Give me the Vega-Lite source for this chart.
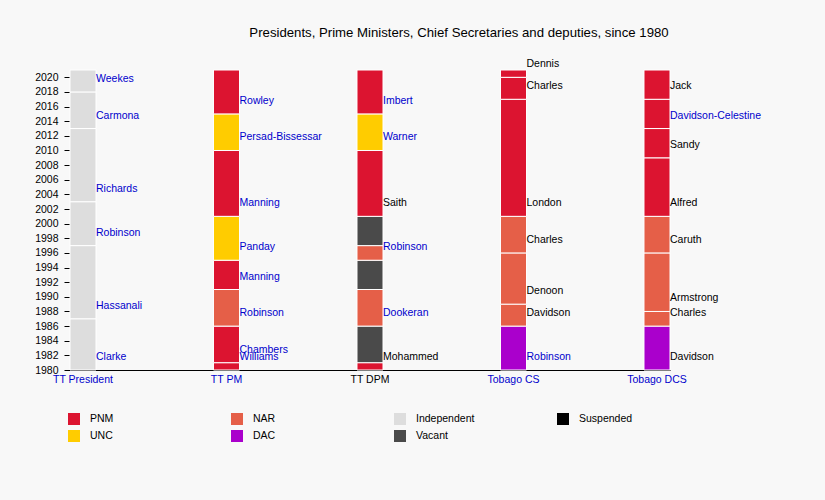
{
  "$schema": "https://vega.github.io/schema/vega-lite/v6.json",
  "autosize": "none",
  "padding": {"left": 70, "top": 70, "right": 155, "bottom": 130},
  "width": 600,
  "height": 300,
  "background": "#f8f8f8",
  "title": {
    "text": "Presidents, Prime Ministers, Chief Secretaries and deputies, since 1980",
    "fontSize": 13.2,
    "fontWeight": "normal",
    "color": "#000000",
    "anchor": "middle",
    "dx": 89,
    "offset": 19
  },
  "data": {
    "values": [
      {"post": "TT President", "name": "Clarke", "party": "Independent", "start": 1980, "end": 1987, "link": true},
      {"post": "TT President", "name": "Hassanali", "party": "Independent", "start": 1987, "end": 1997, "link": true},
      {"post": "TT President", "name": "Robinson", "party": "Independent", "start": 1997, "end": 2003, "link": true},
      {"post": "TT President", "name": "Richards", "party": "Independent", "start": 2003, "end": 2013, "link": true},
      {"post": "TT President", "name": "Carmona", "party": "Independent", "start": 2013, "end": 2018, "link": true},
      {"post": "TT President", "name": "Weekes", "party": "Independent", "start": 2018, "end": 2021, "link": true},
      {"post": "TT PM", "name": "Williams", "party": "PNM", "start": 1980, "end": 1981, "link": true},
      {"post": "TT PM", "name": "Chambers", "party": "PNM", "start": 1981, "end": 1986, "link": true},
      {"post": "TT PM", "name": "Robinson", "party": "NAR", "start": 1986, "end": 1991, "link": true},
      {"post": "TT PM", "name": "Manning", "party": "PNM", "start": 1991, "end": 1995, "link": true},
      {"post": "TT PM", "name": "Panday", "party": "UNC", "start": 1995, "end": 2001, "link": true},
      {"post": "TT PM", "name": "Manning", "party": "PNM", "start": 2001, "end": 2010, "link": true},
      {"post": "TT PM", "name": "Persad-Bissessar", "party": "UNC", "start": 2010, "end": 2015, "link": true},
      {"post": "TT PM", "name": "Rowley", "party": "PNM", "start": 2015, "end": 2021, "link": true},
      {"post": "TT DPM", "name": "Mohammed", "party": "PNM", "start": 1980, "end": 1981, "link": false},
      {"post": "TT DPM", "name": "", "party": "Vacant", "start": 1981, "end": 1986, "link": false},
      {"post": "TT DPM", "name": "Dookeran", "party": "NAR", "start": 1986, "end": 1991, "link": true},
      {"post": "TT DPM", "name": "", "party": "Vacant", "start": 1991, "end": 1995, "link": false},
      {"post": "TT DPM", "name": "Robinson", "party": "NAR", "start": 1995, "end": 1997, "link": true},
      {"post": "TT DPM", "name": "", "party": "Vacant", "start": 1997, "end": 2001, "link": false},
      {"post": "TT DPM", "name": "Saith", "party": "PNM", "start": 2001, "end": 2010, "link": false},
      {"post": "TT DPM", "name": "Warner", "party": "UNC", "start": 2010, "end": 2015, "link": true},
      {"post": "TT DPM", "name": "Imbert", "party": "PNM", "start": 2015, "end": 2021, "link": true},
      {"post": "Tobago CS", "name": "Robinson", "party": "DAC", "start": 1980, "end": 1986, "link": true},
      {"post": "Tobago CS", "name": "Davidson", "party": "NAR", "start": 1986, "end": 1989, "link": false},
      {"post": "Tobago CS", "name": "Denoon", "party": "NAR", "start": 1989, "end": 1996, "link": false},
      {"post": "Tobago CS", "name": "Charles", "party": "NAR", "start": 1996, "end": 2001, "link": false},
      {"post": "Tobago CS", "name": "London", "party": "PNM", "start": 2001, "end": 2017, "link": false},
      {"post": "Tobago CS", "name": "Charles", "party": "PNM", "start": 2017, "end": 2020, "link": false},
      {"post": "Tobago CS", "name": "Dennis", "party": "PNM", "start": 2020, "end": 2021, "link": false},
      {"post": "Tobago DCS", "name": "Davidson", "party": "DAC", "start": 1980, "end": 1986, "link": false},
      {"post": "Tobago DCS", "name": "Charles", "party": "NAR", "start": 1986, "end": 1988, "link": false},
      {"post": "Tobago DCS", "name": "Armstrong", "party": "NAR", "start": 1988, "end": 1996, "link": false},
      {"post": "Tobago DCS", "name": "Caruth", "party": "NAR", "start": 1996, "end": 2001, "link": false},
      {"post": "Tobago DCS", "name": "Alfred", "party": "PNM", "start": 2001, "end": 2009, "link": false},
      {"post": "Tobago DCS", "name": "Sandy", "party": "PNM", "start": 2009, "end": 2013, "link": false},
      {"post": "Tobago DCS", "name": "Davidson-Celestine", "party": "PNM", "start": 2013, "end": 2017, "link": true},
      {"post": "Tobago DCS", "name": "Jack", "party": "PNM", "start": 2017, "end": 2021, "link": false}
    ]
  },
  "encoding": {
    "x": {
      "field": "post",
      "type": "nominal",
      "sort": ["TT President", "TT PM", "TT DPM", "Tobago CS", "Tobago DCS"],
      "scale": {"paddingInner": 0.8188, "paddingOuter": 0},
      "axis": {
        "title": null,
        "labelAngle": 0,
        "ticks": false,
        "labelPadding": 4,
        "domainColor": "#000000",
        "labelColor": {
          "condition": {"test": "datum.value === 'TT DPM'", "value": "#000000"},
          "value": "#0000cc"
        }
      }
    },
    "y": {
      "field": "start",
      "type": "quantitative",
      "scale": {"domain": [1980, 2021], "nice": false, "zero": false},
      "axis": {
        "title": null,
        "grid": false,
        "format": "d",
        "values": [1980, 1982, 1984, 1986, 1988, 1990, 1992, 1994, 1996, 1998, 2000, 2002, 2004, 2006, 2008, 2010, 2012, 2014, 2016, 2018, 2020],
        "tickSize": 6,
        "labelPadding": 6,
        "domainColor": "#000000",
        "tickColor": "#000000",
        "labelColor": "#000000"
      }
    }
  },
  "layer": [
    {
      "mark": {"type": "bar", "stroke": "#ffffff", "strokeWidth": 1},
      "encoding": {
        "y2": {"field": "end"},
        "color": {
          "field": "party",
          "type": "nominal",
          "scale": {
            "domain": ["PNM", "UNC", "NAR", "DAC", "Independent", "Vacant", "Suspended"],
            "range": ["#dc1430", "#ffcc00", "#e55f48", "#aa00cc", "#dddddd", "#4a4a4a", "#000000"]
          },
          "legend": {
            "title": null,
            "orient": "none",
            "legendX": -2,
            "legendY": 343,
            "columns": 4,
            "gridAlign": "all",
            "columnPadding": 82,
            "rowPadding": 5,
            "symbolType": "square",
            "symbolSize": 144,
            "symbolStrokeWidth": 0,
            "labelOffset": 10,
            "labelFontSize": 10.5,
            "labelColor": "#000000"
          }
        }
      }
    },
    {
      "mark": {"type": "text", "align": "left", "baseline": "middle", "dy": -13, "dx": 0, "fontSize": 10.5},
      "encoding": {
        "x": {"field": "post", "type": "nominal", "sort": ["TT President", "TT PM", "TT DPM", "Tobago CS", "Tobago DCS"], "bandPosition": 1},
        "text": {"field": "name"},
        "color": {"condition": {"test": "datum.link", "value": "#0000cc"}, "value": "#000000"}
      }
    }
  ],
  "config": {
    "font": "Liberation Sans",
    "view": {"stroke": null},
    "axis": {"labelFontSize": 10.5, "labelFont": "Liberation Sans"},
    "legend": {"labelFont": "Liberation Sans"}
  }
}
